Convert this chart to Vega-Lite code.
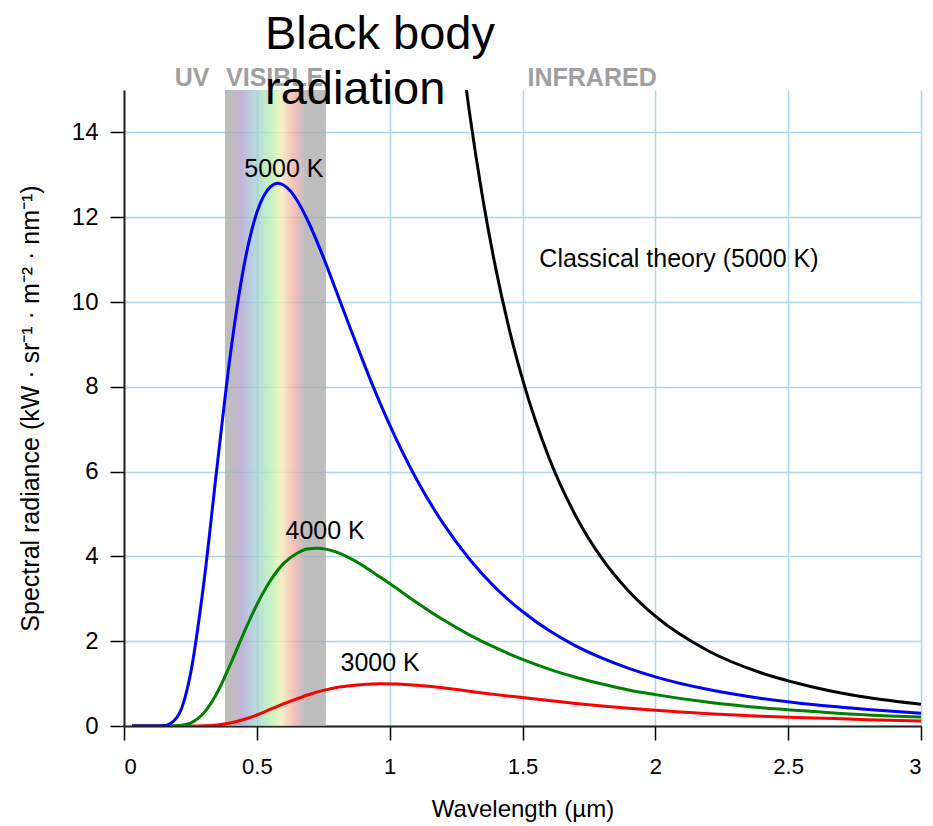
{
  "$schema": "https://vega.github.io/schema/vega-lite/v6.json",
  "width": 797,
  "height": 636,
  "autosize": {"type": "none"},
  "padding": {"left": 124, "top": 90, "right": 12, "bottom": 100},
  "background": "white",
  "title": {
    "text": ["Black body", "radiation"],
    "fontSize": 47,
    "font": "Liberation Sans",
    "fontWeight": "normal",
    "color": "#000000",
    "anchor": "start",
    "frame": "group",
    "align": "left",
    "dx": 141,
    "lineHeight": 55,
    "offset": -48
  },
  "config": {
    "view": {"stroke": null},
    "font": "Liberation Sans",
    "axis": {
      "grid": true,
      "gridColor": "#add8e6",
      "gridWidth": 1.5,
      "gridOpacity": 1,
      "domainColor": "#222222",
      "domainWidth": 2,
      "tickColor": "#000000",
      "tickWidth": 1.5,
      "tickSize": 14,
      "labelColor": "#000000",
      "labelFont": "Liberation Sans",
      "titleFont": "Liberation Sans",
      "titleColor": "#000000",
      "titleFontWeight": "normal"
    }
  },
  "datasets": {
    "curves": [
      {"lambda": 0.03, "radiance": 0, "series": "5000 K"},
      {"lambda": 0.05, "radiance": 0, "series": "5000 K"},
      {"lambda": 0.1, "radiance": 0, "series": "5000 K"},
      {"lambda": 0.15, "radiance": 0.007, "series": "5000 K"},
      {"lambda": 0.2, "radiance": 0.21, "series": "5000 K"},
      {"lambda": 0.25, "radiance": 1.22, "series": "5000 K"},
      {"lambda": 0.3, "radiance": 3.35, "series": "5000 K"},
      {"lambda": 0.35, "radiance": 6.1, "series": "5000 K"},
      {"lambda": 0.4, "radiance": 8.74, "series": "5000 K"},
      {"lambda": 0.45, "radiance": 10.8, "series": "5000 K"},
      {"lambda": 0.5, "radiance": 12.11, "series": "5000 K"},
      {"lambda": 0.525, "radiance": 12.49, "series": "5000 K"},
      {"lambda": 0.55, "radiance": 12.71, "series": "5000 K"},
      {"lambda": 0.58, "radiance": 12.8, "series": "5000 K"},
      {"lambda": 0.6, "radiance": 12.76, "series": "5000 K"},
      {"lambda": 0.625, "radiance": 12.63, "series": "5000 K"},
      {"lambda": 0.65, "radiance": 12.41, "series": "5000 K"},
      {"lambda": 0.7, "radiance": 11.81, "series": "5000 K"},
      {"lambda": 0.75, "radiance": 11.06, "series": "5000 K"},
      {"lambda": 0.8, "radiance": 10.24, "series": "5000 K"},
      {"lambda": 0.85, "radiance": 9.41, "series": "5000 K"},
      {"lambda": 0.9, "radiance": 8.6, "series": "5000 K"},
      {"lambda": 0.95, "radiance": 7.82, "series": "5000 K"},
      {"lambda": 1.0, "radiance": 7.1, "series": "5000 K"},
      {"lambda": 1.1, "radiance": 5.83, "series": "5000 K"},
      {"lambda": 1.2, "radiance": 4.79, "series": "5000 K"},
      {"lambda": 1.3, "radiance": 3.94, "series": "5000 K"},
      {"lambda": 1.4, "radiance": 3.25, "series": "5000 K"},
      {"lambda": 1.5, "radiance": 2.7, "series": "5000 K"},
      {"lambda": 1.6, "radiance": 2.25, "series": "5000 K"},
      {"lambda": 1.7, "radiance": 1.89, "series": "5000 K"},
      {"lambda": 1.8, "radiance": 1.6, "series": "5000 K"},
      {"lambda": 1.9, "radiance": 1.36, "series": "5000 K"},
      {"lambda": 2.0, "radiance": 1.16, "series": "5000 K"},
      {"lambda": 2.2, "radiance": 0.86, "series": "5000 K"},
      {"lambda": 2.4, "radiance": 0.65, "series": "5000 K"},
      {"lambda": 2.6, "radiance": 0.5, "series": "5000 K"},
      {"lambda": 2.8, "radiance": 0.39, "series": "5000 K"},
      {"lambda": 3.0, "radiance": 0.3, "series": "5000 K"},

      {"lambda": 0.03, "radiance": 0, "series": "4000 K"},
      {"lambda": 0.1, "radiance": 0, "series": "4000 K"},
      {"lambda": 0.15, "radiance": 0, "series": "4000 K"},
      {"lambda": 0.2, "radiance": 0.006, "series": "4000 K"},
      {"lambda": 0.25, "radiance": 0.069, "series": "4000 K"},
      {"lambda": 0.3, "radiance": 0.304, "series": "4000 K"},
      {"lambda": 0.35, "radiance": 0.78, "series": "4000 K"},
      {"lambda": 0.4, "radiance": 1.45, "series": "4000 K"},
      {"lambda": 0.45, "radiance": 2.18, "series": "4000 K"},
      {"lambda": 0.5, "radiance": 2.86, "series": "4000 K"},
      {"lambda": 0.55, "radiance": 3.42, "series": "4000 K"},
      {"lambda": 0.6, "radiance": 3.83, "series": "4000 K"},
      {"lambda": 0.65, "radiance": 4.07, "series": "4000 K"},
      {"lambda": 0.69, "radiance": 4.175, "series": "4000 K"},
      {"lambda": 0.725, "radiance": 4.194, "series": "4000 K"},
      {"lambda": 0.76, "radiance": 4.172, "series": "4000 K"},
      {"lambda": 0.8, "radiance": 4.1, "series": "4000 K"},
      {"lambda": 0.85, "radiance": 3.96, "series": "4000 K"},
      {"lambda": 0.9, "radiance": 3.78, "series": "4000 K"},
      {"lambda": 0.95, "radiance": 3.57, "series": "4000 K"},
      {"lambda": 1.0, "radiance": 3.36, "series": "4000 K"},
      {"lambda": 1.1, "radiance": 2.92, "series": "4000 K"},
      {"lambda": 1.2, "radiance": 2.51, "series": "4000 K"},
      {"lambda": 1.3, "radiance": 2.15, "series": "4000 K"},
      {"lambda": 1.4, "radiance": 1.84, "series": "4000 K"},
      {"lambda": 1.5, "radiance": 1.57, "series": "4000 K"},
      {"lambda": 1.6, "radiance": 1.34, "series": "4000 K"},
      {"lambda": 1.7, "radiance": 1.15, "series": "4000 K"},
      {"lambda": 1.8, "radiance": 0.99, "series": "4000 K"},
      {"lambda": 1.9, "radiance": 0.85, "series": "4000 K"},
      {"lambda": 2.0, "radiance": 0.74, "series": "4000 K"},
      {"lambda": 2.2, "radiance": 0.56, "series": "4000 K"},
      {"lambda": 2.4, "radiance": 0.43, "series": "4000 K"},
      {"lambda": 2.6, "radiance": 0.34, "series": "4000 K"},
      {"lambda": 2.8, "radiance": 0.26, "series": "4000 K"},
      {"lambda": 3.0, "radiance": 0.21, "series": "4000 K"},

      {"lambda": 0.03, "radiance": 0, "series": "3000 K"},
      {"lambda": 0.1, "radiance": 0, "series": "3000 K"},
      {"lambda": 0.2, "radiance": 0, "series": "3000 K"},
      {"lambda": 0.25, "radiance": 0.001, "series": "3000 K"},
      {"lambda": 0.3, "radiance": 0.006, "series": "3000 K"},
      {"lambda": 0.35, "radiance": 0.025, "series": "3000 K"},
      {"lambda": 0.4, "radiance": 0.072, "series": "3000 K"},
      {"lambda": 0.45, "radiance": 0.152, "series": "3000 K"},
      {"lambda": 0.5, "radiance": 0.26, "series": "3000 K"},
      {"lambda": 0.55, "radiance": 0.39, "series": "3000 K"},
      {"lambda": 0.6, "radiance": 0.52, "series": "3000 K"},
      {"lambda": 0.65, "radiance": 0.64, "series": "3000 K"},
      {"lambda": 0.7, "radiance": 0.75, "series": "3000 K"},
      {"lambda": 0.75, "radiance": 0.84, "series": "3000 K"},
      {"lambda": 0.8, "radiance": 0.91, "series": "3000 K"},
      {"lambda": 0.85, "radiance": 0.95, "series": "3000 K"},
      {"lambda": 0.9, "radiance": 0.98, "series": "3000 K"},
      {"lambda": 0.966, "radiance": 0.995, "series": "3000 K"},
      {"lambda": 1.03, "radiance": 0.988, "series": "3000 K"},
      {"lambda": 1.1, "radiance": 0.96, "series": "3000 K"},
      {"lambda": 1.2, "radiance": 0.9, "series": "3000 K"},
      {"lambda": 1.3, "radiance": 0.82, "series": "3000 K"},
      {"lambda": 1.4, "radiance": 0.74, "series": "3000 K"},
      {"lambda": 1.5, "radiance": 0.67, "series": "3000 K"},
      {"lambda": 1.6, "radiance": 0.6, "series": "3000 K"},
      {"lambda": 1.7, "radiance": 0.53, "series": "3000 K"},
      {"lambda": 1.8, "radiance": 0.47, "series": "3000 K"},
      {"lambda": 1.9, "radiance": 0.42, "series": "3000 K"},
      {"lambda": 2.0, "radiance": 0.37, "series": "3000 K"},
      {"lambda": 2.2, "radiance": 0.29, "series": "3000 K"},
      {"lambda": 2.4, "radiance": 0.23, "series": "3000 K"},
      {"lambda": 2.6, "radiance": 0.19, "series": "3000 K"},
      {"lambda": 2.8, "radiance": 0.15, "series": "3000 K"},
      {"lambda": 3.0, "radiance": 0.12, "series": "3000 K"},

      {"lambda": 1.25, "radiance": 16.95, "series": "Classical"},
      {"lambda": 1.3, "radiance": 14.49, "series": "Classical"},
      {"lambda": 1.35, "radiance": 12.46, "series": "Classical"},
      {"lambda": 1.4, "radiance": 10.77, "series": "Classical"},
      {"lambda": 1.45, "radiance": 9.36, "series": "Classical"},
      {"lambda": 1.5, "radiance": 8.18, "series": "Classical"},
      {"lambda": 1.6, "radiance": 6.32, "series": "Classical"},
      {"lambda": 1.7, "radiance": 4.96, "series": "Classical"},
      {"lambda": 1.8, "radiance": 3.94, "series": "Classical"},
      {"lambda": 1.9, "radiance": 3.18, "series": "Classical"},
      {"lambda": 2.0, "radiance": 2.59, "series": "Classical"},
      {"lambda": 2.2, "radiance": 1.77, "series": "Classical"},
      {"lambda": 2.4, "radiance": 1.25, "series": "Classical"},
      {"lambda": 2.6, "radiance": 0.91, "series": "Classical"},
      {"lambda": 2.8, "radiance": 0.67, "series": "Classical"},
      {"lambda": 3.0, "radiance": 0.51, "series": "Classical"}
    ],
    "band": [{"start": 0.38, "end": 0.76}],
    "curveLabels": [
      {"lambda": 0.602, "radiance": 13.13, "label": "5000 K"},
      {"lambda": 0.757, "radiance": 4.59, "label": "4000 K"},
      {"lambda": 0.964, "radiance": 1.48, "label": "3000 K"},
      {"lambda": 2.089, "radiance": 11.01, "label": "Classical theory (5000 K)"}
    ],
    "regionLabels": [
      {"lambda": 0.256, "radiance": 15.28, "label": "UV"},
      {"lambda": 0.567, "radiance": 15.28, "label": "VISIBLE"},
      {"lambda": 1.762, "radiance": 15.28, "label": "INFRARED"}
    ]
  },
  "encoding": {
    "x": {
      "field": "lambda",
      "type": "quantitative",
      "scale": {"domain": [0, 3], "nice": false, "zero": false},
      "axis": {
        "title": "Wavelength (µm)",
        "values": [0, 0.5, 1, 1.5, 2, 2.5, 3],
        "format": "~g",
        "labelFontSize": 22,
        "labelPadding": 16,
        "titleFontSize": 24,
        "titlePadding": 20
      }
    },
    "y": {
      "field": "radiance",
      "type": "quantitative",
      "scale": {"domain": [0, 15], "nice": false},
      "axis": {
        "title": "Spectral radiance (kW · sr⁻¹ · m⁻² · nm⁻¹)",
        "values": [0, 2, 4, 6, 8, 10, 12, 14],
        "labelFontSize": 24,
        "labelPadding": 12,
        "titleFontSize": 25,
        "titlePadding": 28
      }
    }
  },
  "layer": [
    {
      "data": {"name": "band"},
      "mark": {
        "type": "rect",
        "opacity": 0.78,
        "fill": {
          "gradient": "linear",
          "x1": 0, "y1": 0, "x2": 1, "y2": 0,
          "stops": [
            {"offset": 0, "color": "#ababab"},
            {"offset": 0.06, "color": "#ababab"},
            {"offset": 0.16, "color": "#b0a0cb"},
            {"offset": 0.29, "color": "#a2cad7"},
            {"offset": 0.46, "color": "#b6f2af"},
            {"offset": 0.56, "color": "#f2ebb6"},
            {"offset": 0.68, "color": "#f2afa8"},
            {"offset": 0.8, "color": "#ababab"},
            {"offset": 1, "color": "#ababab"}
          ]
        }
      },
      "encoding": {
        "x": {"field": "start", "type": "quantitative"},
        "x2": {"field": "end"},
        "y": null
      }
    },
    {
      "data": {"name": "curves"},
      "transform": [{"filter": "datum.series === 'Classical'"}],
      "mark": {"type": "line", "color": "#000000", "strokeWidth": 3, "interpolate": "monotone", "clip": true}
    },
    {
      "data": {"name": "curves"},
      "transform": [{"filter": "datum.series === '3000 K'"}],
      "mark": {"type": "line", "color": "#ff0000", "strokeWidth": 3, "interpolate": "monotone", "clip": true}
    },
    {
      "data": {"name": "curves"},
      "transform": [{"filter": "datum.series === '4000 K'"}],
      "mark": {"type": "line", "color": "#008000", "strokeWidth": 3, "interpolate": "monotone", "clip": true}
    },
    {
      "data": {"name": "curves"},
      "transform": [{"filter": "datum.series === '5000 K'"}],
      "mark": {"type": "line", "color": "#0000ff", "strokeWidth": 3, "interpolate": "monotone", "clip": true}
    },
    {
      "data": {"name": "curveLabels"},
      "mark": {"type": "text", "fontSize": 25, "font": "Liberation Sans", "color": "#000000", "align": "center", "baseline": "middle"},
      "encoding": {"text": {"field": "label"}}
    },
    {
      "data": {"name": "regionLabels"},
      "mark": {"type": "text", "fontSize": 25, "font": "Liberation Sans", "fontWeight": "bold", "color": "#a0a0a0", "align": "center", "baseline": "middle"},
      "encoding": {"text": {"field": "label"}}
    }
  ]
}
